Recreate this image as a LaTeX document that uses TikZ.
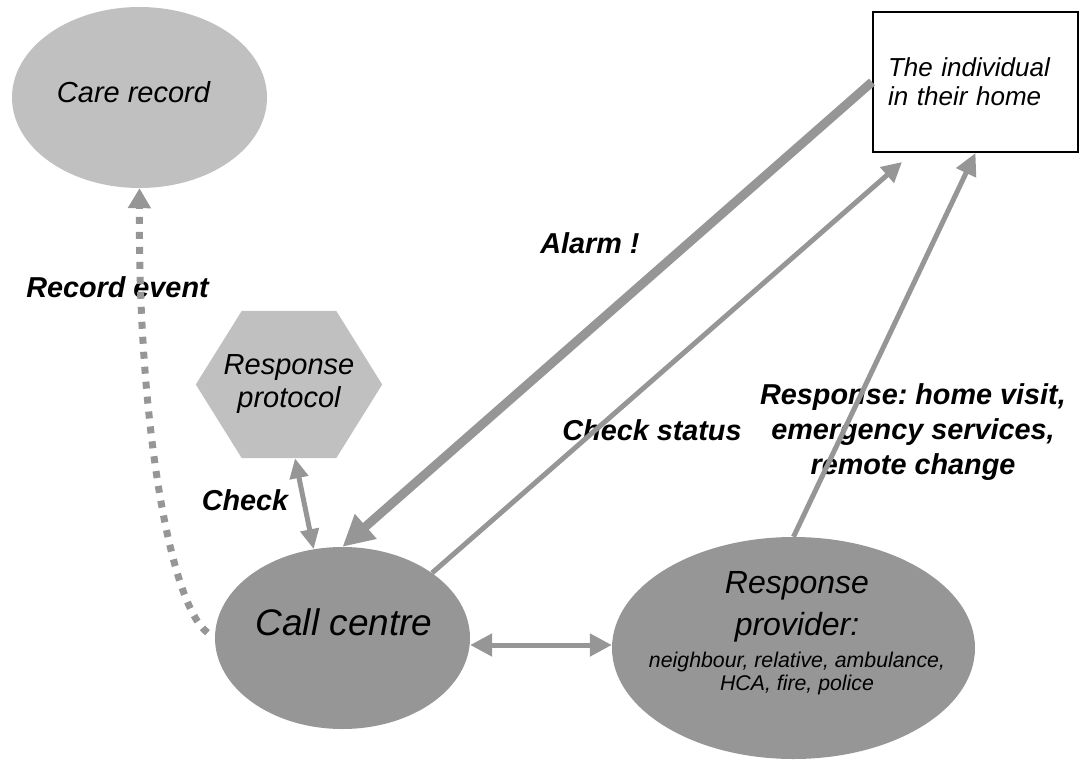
\documentclass[tikz,border=0pt]{standalone}
\usepackage{fontspec}
\setmainfont{Liberation Sans}
\usetikzlibrary{shapes.geometric,arrows.meta,backgrounds,calc}
\definecolor{lightgrey}{HTML}{C0C0C0}
\definecolor{midgrey}{HTML}{969696}
\frenchspacing

\begin{document}
\begin{tikzpicture}[x=1pt,y=-1pt,
  blob/.style={ellipse,inner sep=0pt},
  link/.style={draw=midgrey,line width=5pt},
  lbl/.style={inner sep=0pt,align=center,font=\fontsize{28.8}{35}\selectfont\bfseries\itshape}]
\useasboundingbox (0,0) rectangle (1085,761);
% the four places
\node[blob,fill=lightgrey,minimum width=255pt,minimum height=181pt] (record) at (139.5,97.5) {};
\node[blob,fill=midgrey,minimum width=255pt,minimum height=182pt] (callcentre) at (342.5,638) {};
\node[blob,fill=midgrey,minimum width=363pt,minimum height=222pt] (provider) at (793.5,648) {};
\node[minimum width=186pt,minimum height=147pt,align=center,font=\fontsize{29}{33}\selectfont\itshape] (protocol) at (289,384.5) {Response\\protocol};
\begin{scope}[on background layer]
  \fill[lightgrey] (protocol.west) -- ([xshift=46pt]protocol.north west) -- ([xshift=-46pt]protocol.north east)
    -- (protocol.east) -- ([xshift=-46pt]protocol.south east) -- ([xshift=46pt]protocol.south west) -- cycle;
\end{scope}
\node[draw=black,line width=2pt,minimum width=205pt,minimum height=140pt,text width=175pt,inner xsep=15pt,
  align=left,font=\fontsize{26}{29}\selectfont\itshape] (individual) at (975.5,82) {The individual\\in their home};
% texts in the ellipses
\node[font=\fontsize{29}{33}\selectfont\itshape] (recordtext) at (133.5,92) {Care record};
\node[font=\fontsize{37}{44}\selectfont\itshape] (centretext) at (344,622) {Call centre};
\node[align=center,font=\fontsize{32}{42}\selectfont\itshape] (providertext) at (797,607) {Response\\provider:};
\node[align=center,font=\fontsize{21.3}{23}\selectfont\itshape] (providerlist) at (797,673.5) {neighbour, relative, ambulance,\\HCA, fire, police};
% labels
\node[lbl] (recordlbl) at (117.5,287) {Record event};
\node[lbl] (alarmlbl) at (590,243) {Alarm !};
\node[lbl] (statuslbl) at (652,430) {Check status};
\node[lbl] (checklbl) at (245,500) {Check};
\node[lbl] (responselbl) at (913,432) {Response: home visit,\\emergency services,\\remote change};
\coordinate (statustip) at (902,162);
% connectors
\draw[link,line width=9pt,-{Triangle[length=31pt,width=31pt]}] (individual.west) -- (callcentre.north);
\draw[link,-{Triangle[length=20pt,width=20pt]}] (callcentre.36) -- (statustip);
\draw[link,-{Triangle[length=22pt,width=21pt]}] (provider.north) -- (individual.south);
\draw[link,{Triangle[length=22pt,width=22pt]}-{Triangle[length=22pt,width=22pt]}]
  ([yshift=-7pt]callcentre.east) -- ([yshift=3pt]provider.west);
\draw[link,{Triangle[length=20pt,width=18pt]}-{Triangle[length=20pt,width=18pt]}]
  ([xshift=6pt]protocol.south) -- (callcentre.108);
\draw[draw=midgrey,line width=7pt,dash pattern=on 7pt off 8pt,shorten <=9pt,-{Triangle[length=20pt,width=22pt]}]
  (callcentre.west) .. controls (170,605) and (138,420) .. (record.south);
\end{tikzpicture}
\end{document}
